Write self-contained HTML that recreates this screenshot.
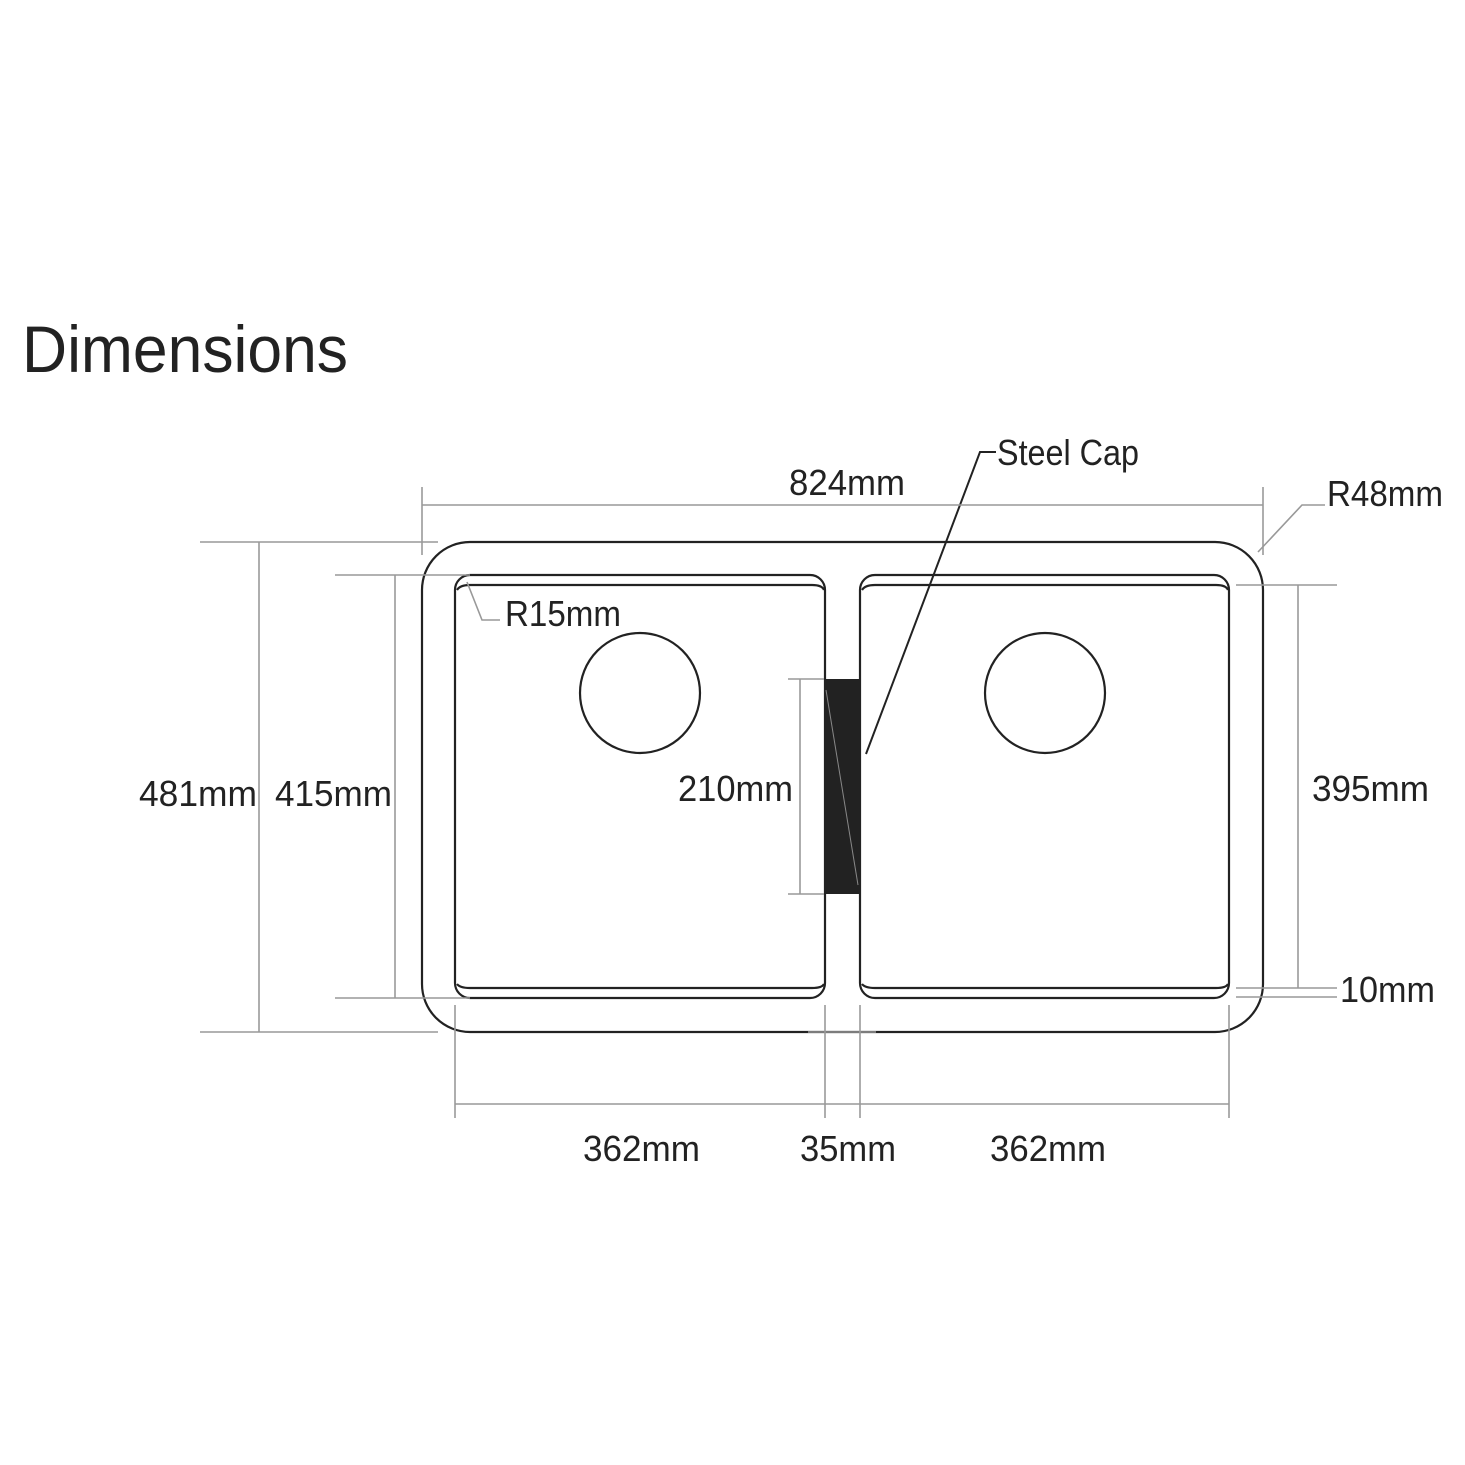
<!DOCTYPE html>
<html><head><style>body{margin:0;background:#fff}svg{display:block}text{font-family:"Liberation Sans",sans-serif;fill:#222}</style></head>
<body>
<svg width="1465" height="1465" viewBox="0 0 1465 1465">
<text x="22" y="372" font-size="66" textLength="326" lengthAdjust="spacingAndGlyphs">Dimensions</text>
<g fill="none" stroke="#222" stroke-width="2.2">
<rect x="422" y="542" width="841" height="490" rx="48"/>
<rect x="455" y="575" width="370" height="423" rx="15"/>
<path d="M457 590 Q460 585 470 585 H812 Q822 585 824 590"/>
<path d="M457 984 Q460 988 470 988 H812 Q822 988 824 984"/>
<rect x="860" y="575" width="369" height="423" rx="15"/>
<path d="M862 590 Q865 585 875 585 H1216 Q1226 585 1228 590"/>
<path d="M862 984 Q865 988 875 988 H1216 Q1226 988 1228 984"/>
<circle cx="640" cy="693" r="60"/>
<circle cx="1045" cy="693" r="60"/>
</g>
<rect x="824" y="679" width="36" height="215" fill="#222"/>
<line x1="826" y1="690" x2="858" y2="885" stroke="#888" stroke-width="1"/>
<polyline points="866,754 980,452 996,452" fill="none" stroke="#222" stroke-width="2"/>
<g fill="none" stroke="#999" stroke-width="1.6">
<line x1="422" y1="505" x2="1263" y2="505"/><line x1="422" y1="487" x2="422" y2="555"/><line x1="1263" y1="487" x2="1263" y2="555"/>
<polyline points="1258,552 1302,505 1325,505"/>
<line x1="200" y1="542" x2="438" y2="542"/><line x1="200" y1="1032" x2="438" y2="1032"/><line x1="259" y1="542" x2="259" y2="1032"/>
<line x1="335" y1="575" x2="470" y2="575"/><line x1="335" y1="998" x2="470" y2="998"/><line x1="395" y1="575" x2="395" y2="998"/>
<polyline points="467,582 482,620 500,620"/>
<line x1="788" y1="679" x2="824" y2="679"/><line x1="788" y1="894" x2="824" y2="894"/><line x1="800" y1="679" x2="800" y2="894"/>
<line x1="1236" y1="585" x2="1337" y2="585"/><line x1="1298" y1="585" x2="1298" y2="988"/><line x1="1236" y1="988" x2="1337" y2="988"/>
<line x1="1236" y1="997" x2="1337" y2="997"/>
<line x1="455" y1="1005" x2="455" y2="1118"/><line x1="825" y1="1005" x2="825" y2="1118"/><line x1="860" y1="1005" x2="860" y2="1118"/><line x1="1229" y1="1005" x2="1229" y2="1118"/>
<line x1="455" y1="1104" x2="1229" y2="1104"/><line x1="808" y1="1032" x2="876" y2="1032"/>
</g>
<g font-size="36" lengthAdjust="spacingAndGlyphs">
<text x="789" y="495" textLength="116" lengthAdjust="spacingAndGlyphs">824mm</text>
<text x="997" y="465" textLength="142" lengthAdjust="spacingAndGlyphs">Steel Cap</text>
<text x="1327" y="506" textLength="116" lengthAdjust="spacingAndGlyphs">R48mm</text>
<text x="505" y="626" textLength="116" lengthAdjust="spacingAndGlyphs">R15mm</text>
<text x="139" y="806" textLength="118" lengthAdjust="spacingAndGlyphs">481mm</text>
<text x="275" y="806" textLength="117" lengthAdjust="spacingAndGlyphs">415mm</text>
<text x="678" y="801" textLength="115" lengthAdjust="spacingAndGlyphs">210mm</text>
<text x="1312" y="801" textLength="117" lengthAdjust="spacingAndGlyphs">395mm</text>
<text x="1340" y="1002" textLength="95" lengthAdjust="spacingAndGlyphs">10mm</text>
<text x="583" y="1161" textLength="117" lengthAdjust="spacingAndGlyphs">362mm</text>
<text x="800" y="1161" textLength="96" lengthAdjust="spacingAndGlyphs">35mm</text>
<text x="990" y="1161" textLength="116" lengthAdjust="spacingAndGlyphs">362mm</text>
</g>
</svg>
</body></html>
